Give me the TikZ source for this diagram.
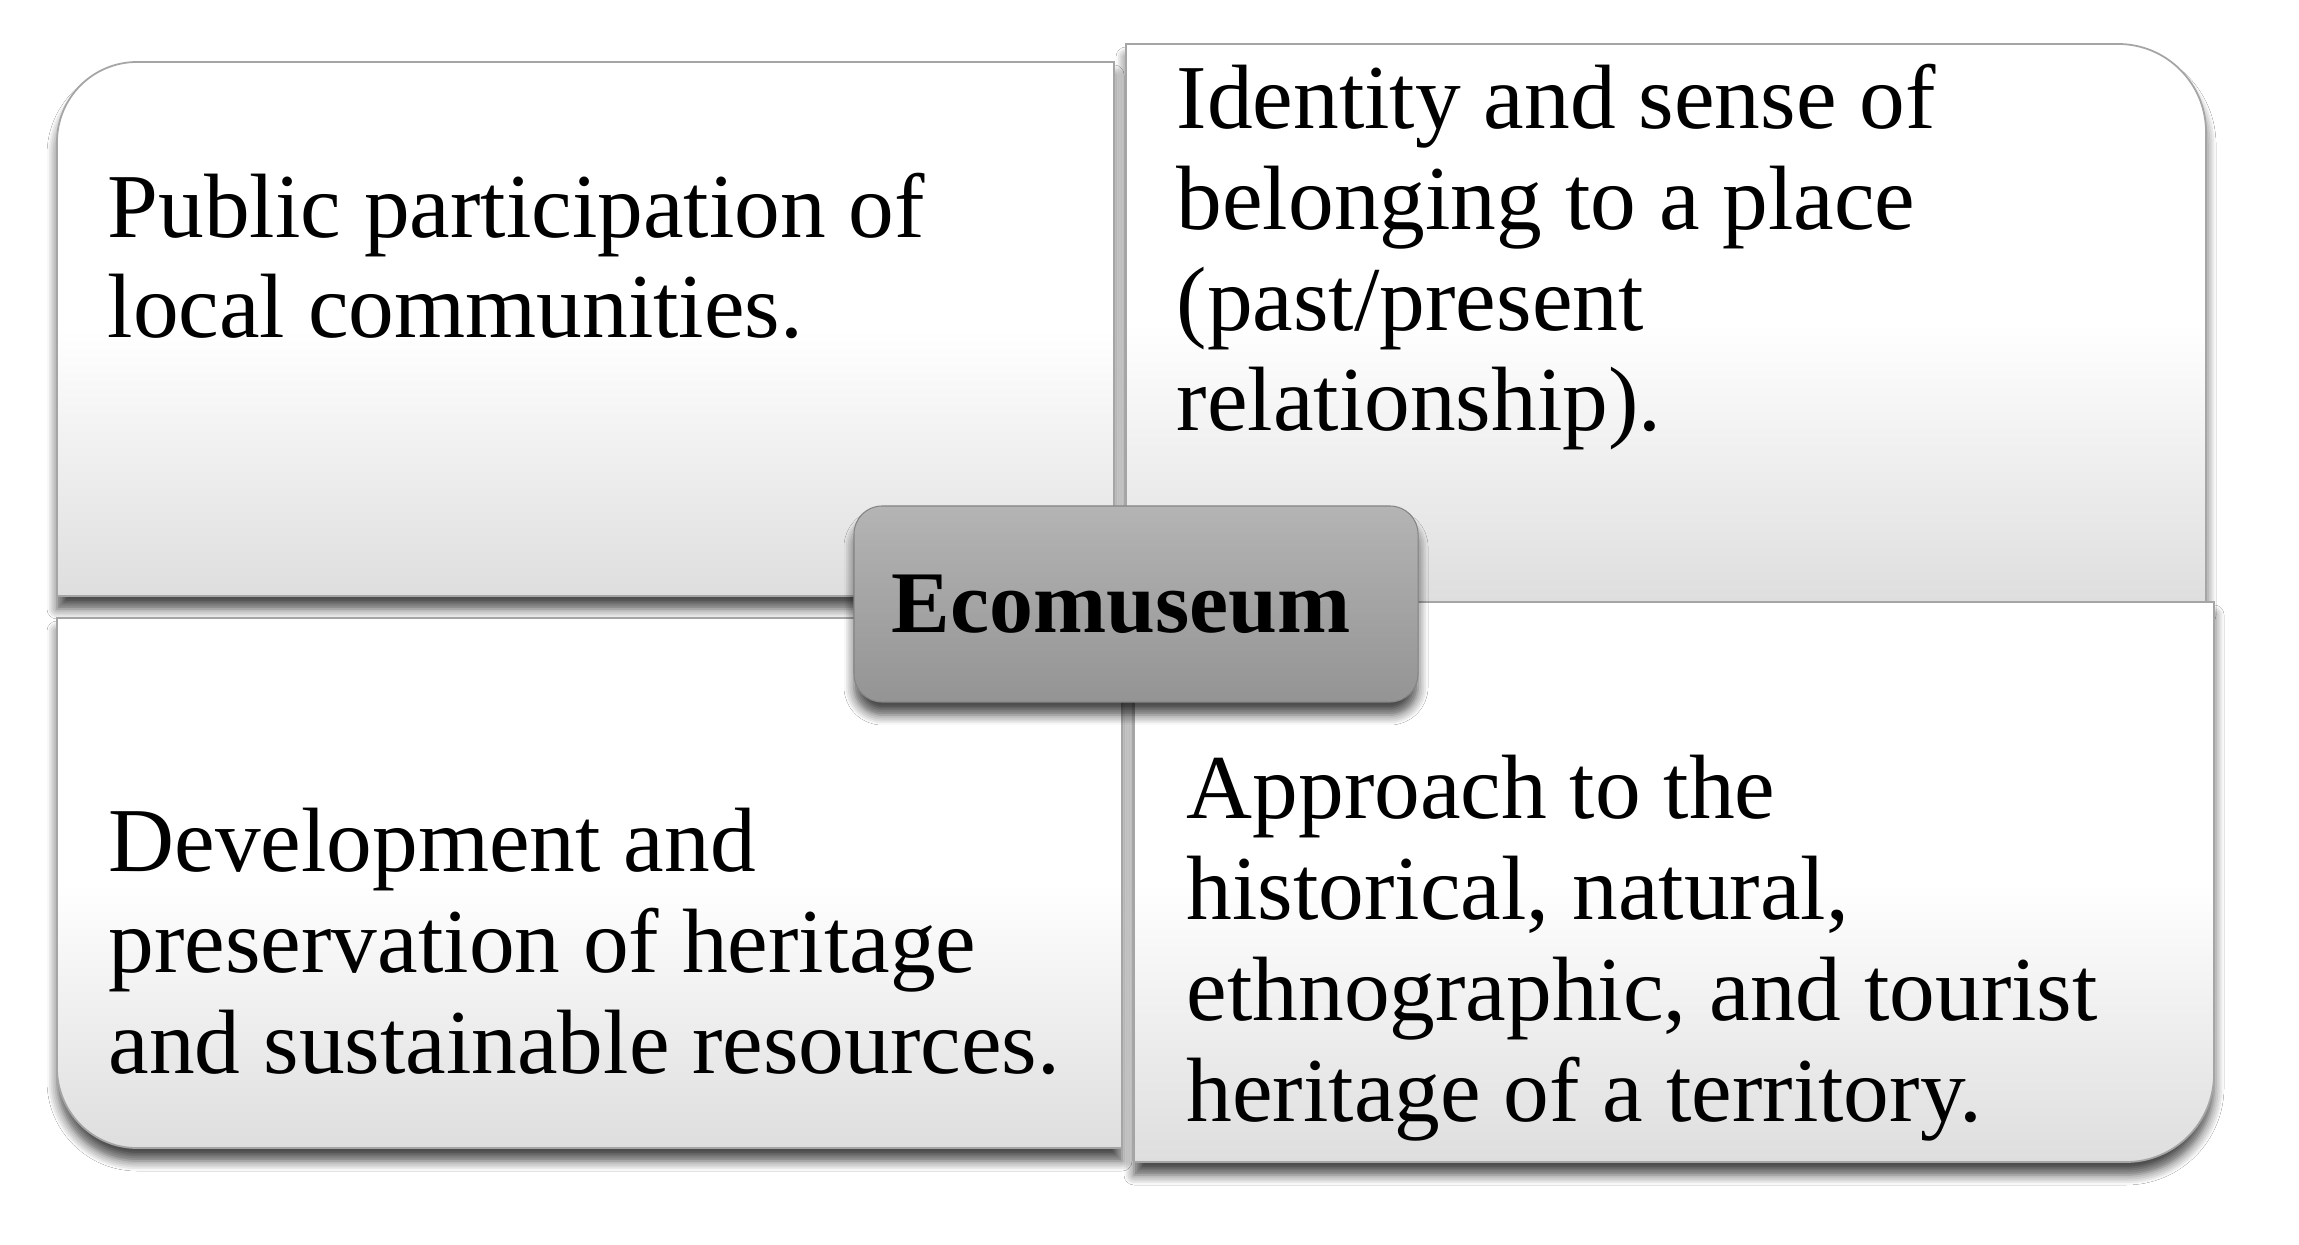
\documentclass[tikz,border=0pt]{standalone}
\usepackage{fontspec}
\setmainfont{Liberation Serif}
\usepackage{xcolor}
\usetikzlibrary{positioning, shadows.blur, calc}
\definecolor{BoxGray}{RGB}{222, 222, 222}
\definecolor{EdgeGray}{RGB}{165, 165, 165}
\definecolor{HubTop}{RGB}{180, 180, 180}
\definecolor{HubBottom}{RGB}{148, 148, 148}

\tikzset{
  quarter/.style={draw=EdgeGray, line width=0.5pt, top color=white, bottom color=BoxGray, middle color=white,
    blur shadow={shadow xshift=0cm, shadow yshift=-0.13cm, shadow blur radius=0.1cm, shadow blur steps=6, shadow opacity=70}},
  quartertext/.style={anchor=base west, align=left, inner sep=0pt, font=\fontsize{26}{28.7}\selectfont},
  hub/.style={rounded corners=0.28cm, minimum width=5.64cm, minimum height=1.96cm, inner sep=0pt,
    top color=HubTop, bottom color=HubBottom, draw=HubBottom!90!black, line width=0.3pt,
    blur shadow={shadow xshift=0cm, shadow yshift=-0.13cm, shadow blur radius=0.1cm, shadow blur steps=6, shadow opacity=70},
    font=\fontsize{25}{28.7}\selectfont\bfseries}
}

\begin{document}
\begin{tikzpicture}
            \useasboundingbox[fill=white] (0,0) rectangle (22.99,12.44);

            % Four quarters
            \path[quarter] (0.57,6.48) -- (0.57,11.02) arc[start angle=180, end angle=90, radius=0.8] -- (11.14,11.82) -- (11.14,6.48) -- cycle;
            \path[quarter] (11.26,6.42) -- (11.26,12.00) -- (21.18,12.00) arc[start angle=90, end angle=0, radius=0.88] -- (22.06,6.42) -- cycle;
            \path[quarter] (0.57,6.26) -- (0.57,1.76) arc[start angle=180, end angle=270, radius=0.8] -- (11.22,0.96) -- (11.22,6.26) -- cycle;
            \path[quarter] (11.34,6.42) -- (22.14,6.42) -- (22.14,1.70) arc[start angle=0, end angle=-90, radius=0.88] -- (11.34,0.82) -- cycle;

            % Texts (anchored at last baseline)
            \node[quartertext] (participation) at (1.07, 9.06) {Public participation of\\local communities.};
            \node[quartertext] (identity) at (11.76, 8.13) {Identity and sense of\\belonging to a place\\(past/present\\relationship).};
            \node[quartertext] (heritage) at (1.08, 1.71) {Development and\\preservation of heritage\\and sustainable resources.};
            \node[quartertext] (approach) at (11.86, 1.23) {Approach to the\\historical, natural,\\ethnographic, and tourist\\heritage of a territory.};

            % Centre
            \node[hub] (ecomuseum) at (11.36, 6.40) {\hspace{-0.3cm}Ecomuseum};
        \end{tikzpicture}
\end{document}
